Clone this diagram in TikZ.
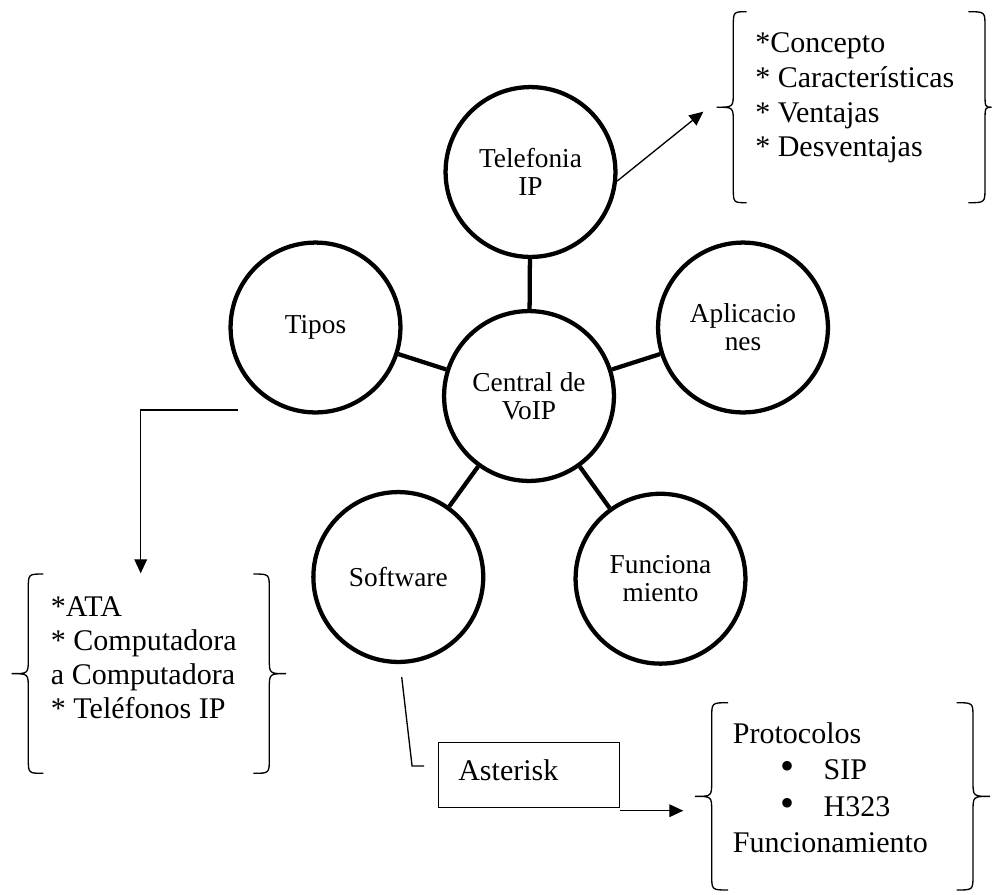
\documentclass[tikz,border=0pt]{standalone}
\usepackage{fontspec}
\setmainfont{Liberation Serif}
\usetikzlibrary{arrows.meta}

% curly brace: #1 stem x, #2 top, #3 bottom, #4 end-hook reach (signed),
% #5 middle-point reach (signed), #6 curl height
\newcommand\drawbrace[6]{%
  \draw[bracestroke] ({#1+#4},#2) .. controls (#1,#2) .. (#1,{#2+#6})
    -- (#1,{(#2+#3)/2-#6}) .. controls (#1,{(#2+#3)/2}) .. ({#1-#5},{(#2+#3)/2})
    .. controls (#1,{(#2+#3)/2}) .. (#1,{(#2+#3)/2+#6})
    -- (#1,{#3-#6}) .. controls (#1,#3) .. ({#1+#4},#3);}

\begin{document}
\begin{tikzpicture}[x=0.75pt,y=-0.75pt,
  topic/.style={circle,draw,line width=3.2pt,minimum size=127.4pt,inner sep=0pt,
    align=center,font=\fontsize{20.5}{20.8}\selectfont},
  spoke/.style={line width=3.2pt},
  link/.style={line width=1pt},
  arrowlink/.style={line width=1pt,-{Triangle[length=10.5pt,width=9.5pt]}},
  bracestroke/.style={line width=1pt},
  listtext/.style={anchor=base west,inner sep=0pt,font=\fontsize{22.5}{26}\selectfont}]
\useasboundingbox (0,0) rectangle (992,894);

% central topic and its five branches
\node[topic] (central) at (529,396)     {Central de\\VoIP};
\node[topic] (tel)     at (530.5,172)   {Telefonia\\IP};
\node[topic] (tipos)   at (315.5,327.5) {Tipos};
\node[topic] (apl)     at (743,327.5)   {Aplicacio\\nes};
\node[topic] (soft)    at (398.3,577)   {Software};
\node[topic] (func)    at (660.5,578.7) {Funciona\\miento};

\foreach \b in {tel,tipos,apl,soft,func}
  \draw[spoke] (central) -- (\b);

% detail lists
\node[listtext] (concepts) at (755,52.7)
  {\begin{tabular}[t]{@{}l@{}}*Concepto\\{}* Características\\{}* Ventajas\\{}* Desventajas\end{tabular}};
\node[listtext,font=\fontsize{22.5}{25.6}\selectfont] (types) at (50.7,616)
  {\begin{tabular}[t]{@{}l@{}}*ATA\\{}* Computadora\\a Computadora\\{}* Teléfonos IP\end{tabular}};
\node[listtext,font=\fontsize{22.5}{27.4}\selectfont] (proto) at (732.7,743.3)
  {\begin{tabular}[t]{@{}l@{}}Protocolos\\
   \makebox[68pt][l]{\hspace*{35.5pt}{\fontsize{30}{30}\selectfont •}}SIP\\
   \makebox[68pt][l]{\hspace*{35.5pt}{\fontsize{30}{30}\selectfont •}}H323\\
   Funcionamiento\end{tabular}};

% braces around the lists
\drawbrace{733.3}{11.7}{202.7}{13.4}{16.7}{15}
\drawbrace{985}{11.7}{202.7}{-16.7}{-6.5}{15}
\drawbrace{28.3}{574}{773.3}{15}{16.6}{15}
\drawbrace{269.3}{574}{773.3}{-16}{-16.7}{15}
\drawbrace{711.7}{702.7}{890}{16.3}{16.7}{15}
\drawbrace{973}{702.7}{890}{-16.3}{-17}{15}

% Asterisk box
\node[draw,line width=1pt,inner xsep=14.7pt,inner ysep=0pt,text width=106pt,align=left,
      minimum height=48.75pt,text height=15.4pt,text depth=8.2pt,
      font=\fontsize{22.5}{26}\selectfont] (ast) at (529,775.2) {Asterisk};

% connectors
\coordinate (concept-in) at (703.3,111.7);
\coordinate (tipos-out)  at (237.7,410);
\coordinate (types-in)   at (140.7,573.3);
\coordinate (proto-in)   at (683.3,810.7);

\draw[arrowlink] (tel.-6) -- (concept-in);
\draw[arrowlink] (tipos-out) -| (types-in);
\draw[link] ([shift={(3.4,13)}]soft.south) -- ([shift={(-26,-9.2)}]ast.west)
  -- ([shift={(-14,-9.2)}]ast.west);
\draw[arrowlink] (ast.south east |- proto-in) -- (proto-in);
\end{tikzpicture}
\end{document}
